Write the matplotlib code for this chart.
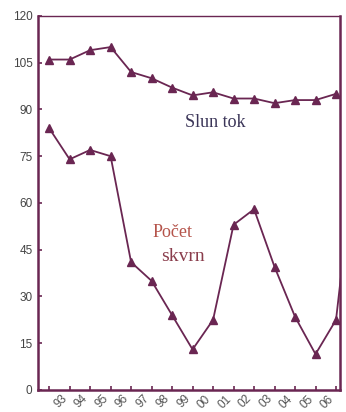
import numpy as np
import matplotlib
matplotlib.use("Agg")
import matplotlib.pyplot as plt

# roky 1992-2006 (+2007 len kvoli useknutej ciare vpravo)
years = [1992, 1993, 1994, 1995, 1996, 1997, 1998, 1999, 2000, 2001, 2002, 2003, 2004, 2005, 2006, 2007]
tok = [106, 106, 109, 110, 102, 100, 97, 94.5, 95.5, 93.5, 93.5, 92, 93, 93, 95, np.nan]
skvrny = [84, 74, 77, 75, 41, 35, 24, 13, 22.5, 53, 58, 39.5, 23.5, 11.5, 22.5, 80]
xlabels = ['', '93', '94', '95', '96', '97', '98', '99', '00', '01', '02', '03', '04', '05', '06']
yticks = [0, 15, 30, 45, 60, 75, 90, 105, 120]

col = '#6a2652'

fig = plt.figure(figsize=(3.46, 4.12), dpi=100)
ax = fig.add_axes([0.110, 0.0534, 0.873, 0.908])

ax.plot(years, tok, color=col, lw=1.3, marker='^', ms=6)
ax.plot(years, skvrny, color=col, lw=1.3, marker='^', ms=6)

ax.set_xlim(1992 - 0.54, 2006 + 0.2)
ax.set_ylim(0, 120)
ax.set_yticks(yticks)
ax.set_xticks(years[:15])
ax.set_xticklabels(xlabels, rotation=45, ha='right', fontsize=8.5, color='#555555',
                   family='Liberation Sans')
ax.set_yticklabels([str(v) for v in yticks], fontsize=8.5, color='#444444', family='Liberation Sans')
ax.tick_params(direction='in', length=3, width=1.2, color=col, pad=4)
ax.tick_params(axis='x', pad=2)

for s in ['left', 'bottom', 'right']:
    ax.spines[s].set_color(col)
    ax.spines[s].set_linewidth(1.8)
ax.spines['top'].set_color(col)
ax.spines['top'].set_linewidth(1.0)

ax.text(2000.1, 85.7, 'Slun tok', color='#3b3558', fontsize=13, family='Liberation Serif',
        ha='center', va='center')
ax.text(1998.0, 50.4, 'Počet', color='#b5544b', fontsize=13, family='Liberation Serif',
        ha='center', va='center')
ax.text(1998.55, 42.7, 'skvrn', color='#8a3d4c', fontsize=14, family='Liberation Serif',
        ha='center', va='center')

fig.savefig('out.png', dpi=100)
